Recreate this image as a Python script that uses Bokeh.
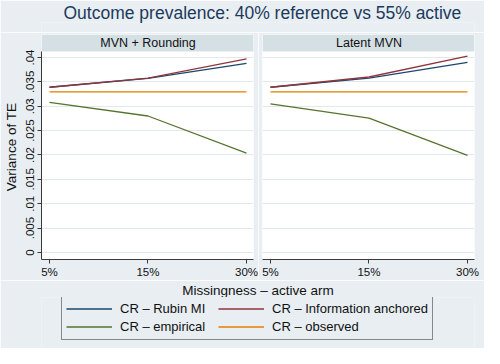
from bokeh.plotting import figure
from bokeh.layouts import column, row
from bokeh.models import (FixedTicker, BoxAnnotation, Label, Legend, LegendItem, Title, ColumnDataSource)
from bokeh.embed import file_html
from bokeh.resources import INLINE

# ---------------- data ----------------
x_labels = ["5%", "15%", "30%"]
x_pos = [1, 2, 3]
panels = ["MVN + Rounding", "Latent MVN"]

rubin_mvn_round = [0.0339, 0.0357, 0.0388]
info_mvn_round = [0.0339, 0.03575, 0.0397]
emp_mvn_round = [0.0308, 0.0280, 0.0204]
obs_mvn_round = [0.03295, 0.03295, 0.03295]

rubin_latent = [0.0339, 0.03575, 0.0390]
info_latent = [0.0339, 0.0360, 0.0403]
emp_latent = [0.0305, 0.02755, 0.0199]
obs_latent = [0.03295, 0.03295, 0.03295]

y_ticks = [0, 0.005, 0.01, 0.015, 0.02, 0.025, 0.03, 0.035, 0.04]
y_tick_labels = ["0", ".005", ".01", ".015", ".02", ".025", ".03", ".035", ".04"]

series_names = ["CR \u2013 Rubin MI", "CR \u2013 Information anchored",
                "CR \u2013 empirical", "CR \u2013 observed"]
series_colors = ["#1a476f", "#90353b", "#55752f", "#e37e00"]
legend_order = [0, 2, 1, 3]  # column-wise fill -> rows: (Rubin, Info), (empirical, observed)

panel_data = [
    [rubin_mvn_round, info_mvn_round, emp_mvn_round, obs_mvn_round],
    [rubin_latent, info_latent, emp_latent, obs_latent],
]

# ---------------- style ----------------
BG = "#e8eef1"
STRIP = "#d5e0e5"
FONT = "Liberation Sans"
GRID = "#e2e8eb"
AXIS = "#3a3a3a"

plot_bottom = -0.00144
plot_top = 0.04123
strip_top = 0.04472


def make_panel(idx, width, left, right, show_y):
    p = figure(width=width, height=248, output_backend="svg", toolbar_location=None,
               x_range=(0.919, 3.071), y_range=(plot_bottom, strip_top),
               min_border_left=left, min_border_right=right,
               min_border_top=2, min_border_bottom=21)
    p.background_fill_color = "white"
    p.border_fill_color = BG
    p.outline_line_color = None

    # strip header
    p.add_layout(BoxAnnotation(bottom=plot_top, fill_color=STRIP, fill_alpha=1,
                               line_color=None, level="underlay"))
    p.add_layout(Label(x=2, y=(plot_top + strip_top) / 2, text=panels[idx],
                       text_align="center", text_baseline="middle",
                       text_font=FONT, text_font_size="12.5px", text_color="#111111"))

    for vals, col in zip(panel_data[idx], series_colors):
        src = ColumnDataSource(dict(x=x_pos, y=vals))
        p.line("x", "y", source=src, line_color=col, line_width=1.3)

    # x axis
    xa = p.xaxis[0]
    xa.ticker = FixedTicker(ticks=x_pos)
    xa.major_label_overrides = {k: v for k, v in zip(x_pos, x_labels)}
    xa.major_label_text_font = FONT
    xa.major_label_text_font_size = "11.5px"
    xa.major_label_text_color = "#111111"
    xa.major_tick_out = 4
    xa.major_tick_in = 0
    xa.minor_tick_line_color = None
    xa.axis_line_color = AXIS
    xa.major_tick_line_color = AXIS
    xa.major_label_standoff = 2
    p.xgrid.grid_line_color = None

    # y axis
    ya = p.yaxis[0]
    ya.ticker = FixedTicker(ticks=y_ticks)
    ya.bounds = (plot_bottom, plot_top)
    p.ygrid.ticker = FixedTicker(ticks=y_ticks)
    p.ygrid.grid_line_color = GRID
    p.ygrid.grid_line_width = 1
    if show_y:
        ya.major_label_overrides = {k: v for k, v in zip(y_ticks, y_tick_labels)}
        ya.major_label_orientation = "vertical"
        ya.major_label_text_font = FONT
        ya.major_label_text_font_size = "11.5px"
        ya.major_label_text_color = "#111111"
        ya.major_tick_out = 4
        ya.major_tick_in = 0
        ya.minor_tick_line_color = None
        ya.axis_line_color = AXIS
        ya.major_tick_line_color = AXIS
        ya.major_label_standoff = 3
        ya.axis_label = "Variance of TE"
        ya.axis_label_text_font = FONT
        ya.axis_label_text_font_style = "normal"
        ya.axis_label_text_font_size = "13.5px"
        ya.axis_label_text_color = "#111111"
        ya.axis_label_standoff = 5
    else:
        ya.visible = False
    return p


pL = make_panel(0, 258, 41, 5, True)
pR = make_panel(1, 226, 4, 10, False)

# overall title
pt = figure(width=484, height=32, output_backend="svg", toolbar_location=None,
            x_axis_type=None, y_axis_type=None,
            min_border_left=0, min_border_right=0, min_border_top=0, min_border_bottom=0,
            x_range=(0, 1), y_range=(0, 1))
pt.background_fill_color = BG
pt.border_fill_color = BG
pt.outline_line_color = None
pt.grid.visible = False
pt.title = Title(text="Outcome prevalence: 40% reference vs 55% active", align="left",
                 text_font=FONT, text_font_size="17.5px", text_font_style="normal",
                 text_color="#1c3a5c", offset=22, standoff=0)

# legend / x-axis title panel
pg = figure(width=484, height=68, output_backend="svg", toolbar_location=None,
            x_axis_type=None, y_axis_type=None, min_border_left=41, min_border_right=10,
            min_border_top=0, min_border_bottom=0,
            x_range=(0.919, 3.071), y_range=(1, 2))
pg.background_fill_color = BG
pg.border_fill_color = BG
pg.outline_line_color = None
pg.grid.visible = False
pg.title = Title(text="Missingness \u2013 active arm", align="center",
                 text_font=FONT, text_font_size="13.5px", text_font_style="normal",
                 text_color="#111111", standoff=0)

renderers = []
for vals, col in zip(panel_data[0], series_colors):
    renderers.append(pg.line(x_pos, vals, line_color=col, line_width=1.3))
items = [LegendItem(label=series_names[i], renderers=[renderers[i]]) for i in legend_order]

leg = Legend(items=items, ncols=2, location=(20, 8),
             background_fill_color=BG, background_fill_alpha=1,
             border_line_color="#222222", border_line_width=1,
             label_text_font=FONT, label_text_font_size="13px", label_text_color="#111111",
             glyph_width=46, glyph_height=17, label_standoff=8, label_height=17,
             label_width=97, spacing=1, padding=4, margin=0)
pg.add_layout(leg, "center")

layout = column(pt, row(pL, pR), pg)

open("out.html", "w").write(file_html(layout, INLINE))
